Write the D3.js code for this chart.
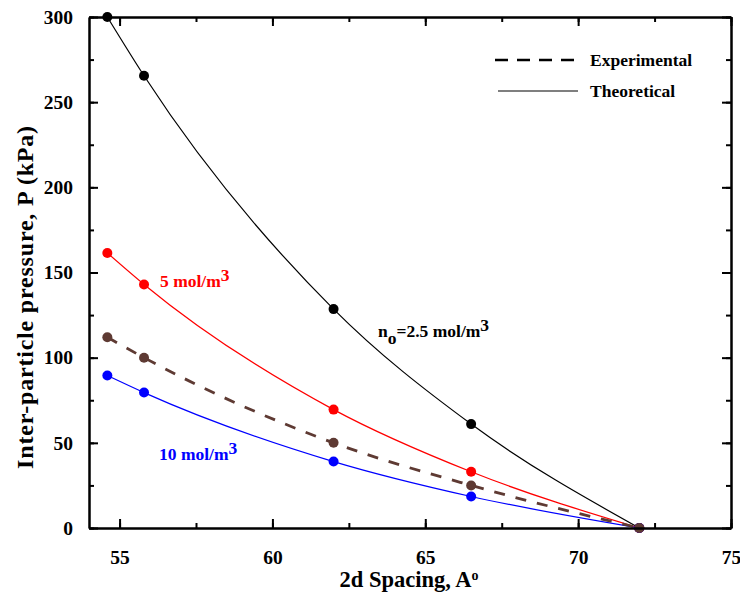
<!DOCTYPE html>
<html>
<head>
<meta charset="utf-8">
<script src="https://cdn.jsdelivr.net/npm/d3@7"></script>
<style>
  body { margin: 0; background: #fff; }
  text { font-family: "Liberation Serif", "Times New Roman", serif; font-weight: bold; }
</style>
</head>
<body>
<div id="chart"></div>
<script>
// spacing values (A) and pressures (kPa)
const spacing = [54.6, 55.8, 62, 66.5, 72];
const p25 = [300, 265.5, 128.5, 61, 0];
const p5 = [161.5, 143, 69.5, 33, 0];
const pExp = [112, 100, 50, 25, 0];
const p10 = [89.5, 79.5, 39, 18.5, 0];
const xTicks = [55, 60, 65, 70, 75];
const yTicks = [0, 50, 100, 150, 200, 250, 300];

const width = 740, height = 595;
const margin = {top: 17, right: 9, bottom: 67, left: 89};

const svg = d3.select('#chart')
  .append('svg')
  .attr('width', width)
  .attr('height', height);

const x = d3.scaleLinear().domain([54, 75]).range([margin.left, width - margin.right]);
const y = d3.scaleLinear().domain([0, 300]).range([height - margin.bottom, margin.top]);

const series = [
  {vals: p25, color: '#000000', w: 1.2, dash: null},
  {vals: p5, color: '#ff0000', w: 1.2, dash: null},
  {vals: p10, color: '#0000ff', w: 1.2, dash: null},
  {vals: pExp, color: '#5e3a33', w: 2.8, dash: '11,11'}
];

const line = d3.line()
  .x(d => x(d[0]))
  .y(d => y(d[1]))
  .curve(d3.curveMonotoneX);

series.forEach(s => {
  const pts = spacing.map((v, i) => [v, s.vals[i]]);
  svg.append('path')
    .attr('d', line(pts))
    .attr('fill', 'none')
    .attr('stroke', s.color)
    .attr('stroke-width', s.w)
    .attr('stroke-dasharray', s.dash);
  svg.append('g')
    .selectAll('circle')
    .data(pts)
    .enter()
    .append('circle')
      .attr('cx', d => x(d[0]))
      .attr('cy', d => y(d[1]))
      .attr('r', 5)
      .attr('fill', s.color);
});

// axes, ticks inward on all sides
const xMinor = d3.range(55, 75.1, 2.5);
const yMinor = d3.range(0, 300.1, 25);

const axBottom = svg.append('g').attr('transform', `translate(0,${y(0)})`);
axBottom.call(d3.axisBottom(x).tickValues(xTicks).tickSize(-9).tickSizeOuter(0).tickFormat(d3.format('d')));
axBottom.append('g').call(d3.axisBottom(x).tickValues(xMinor).tickSize(-5).tickFormat('').tickSizeOuter(0));
const axTop = svg.append('g').attr('transform', `translate(0,${y(300)})`);
axTop.call(d3.axisTop(x).tickValues(xTicks).tickSize(-9).tickFormat('').tickSizeOuter(0));
axTop.append('g').call(d3.axisTop(x).tickValues(xMinor).tickSize(-5).tickFormat('').tickSizeOuter(0));
const axLeft = svg.append('g').attr('transform', `translate(${x(54)},0)`);
axLeft.call(d3.axisLeft(y).tickValues(yTicks).tickSize(-9).tickSizeOuter(0).tickFormat(d3.format('d')));
axLeft.append('g').call(d3.axisLeft(y).tickValues(yMinor).tickSize(-5).tickFormat('').tickSizeOuter(0));
const axRight = svg.append('g').attr('transform', `translate(${x(75)},0)`);
axRight.call(d3.axisRight(y).tickValues(yTicks).tickSize(-9).tickFormat('').tickSizeOuter(0));
axRight.append('g').call(d3.axisRight(y).tickValues(yMinor).tickSize(-5).tickFormat('').tickSizeOuter(0));

svg.selectAll('.domain').attr('stroke', '#000').attr('stroke-width', 2);
svg.selectAll('.tick line').attr('stroke', '#000').attr('stroke-width', 2);
axBottom.selectAll('.tick text')
  .style('font-size', '19.5px').style('font-family', '"Liberation Serif", serif').style('font-weight', 'bold')
  .attr('y', 22);
axLeft.selectAll('.tick text')
  .style('font-size', '19.5px').style('font-family', '"Liberation Serif", serif').style('font-weight', 'bold')
  .attr('x', -16);

// axis titles
const xt = svg.append('text')
  .attr('x', 409).attr('y', 587)
  .style('text-anchor', 'middle')
  .style('font-size', '22.5px');
xt.append('tspan').text('2d Spacing, A');
xt.append('tspan').attr('dy', -7).style('font-size', '14px').text('o');

svg.append('text')
  .attr('transform', `translate(33, 297) rotate(-90)`)
  .style('text-anchor', 'middle')
  .style('font-size', '24px')
  .style('letter-spacing', '0.8px')
  .text('Inter-particle pressure, P (kPa)');

// curve labels
function molLabel(tx, ty, color, pre, sub, rest) {
  const t = svg.append('text').attr('x', tx).attr('y', ty).attr('fill', color).style('font-size', '17.5px');
  t.append('tspan').text(pre);
  if (sub) {
    t.append('tspan').attr('dy', 7).text(sub);
    t.append('tspan').attr('dy', -7).text(rest);
  } else {
    t.append('tspan').text(rest);
  }
  t.append('tspan').attr('dy', -6).text('3');
}
molLabel(160, 287, '#ff0000', '5 mol/m', null, '');
molLabel(159, 460, '#0000ff', '10 mol/m', null, '');
molLabel(378, 337, '#000000', 'n', 'o', '=2.5 mol/m');

// legend
const legend = svg.append('g');
legend.append('line')
  .attr('x1', 495).attr('x2', 578).attr('y1', 60).attr('y2', 60)
  .attr('stroke', '#000').attr('stroke-width', 2.5).attr('stroke-dasharray', '13,9');
legend.append('line')
  .attr('x1', 498).attr('x2', 578).attr('y1', 91).attr('y2', 91)
  .attr('stroke', '#000').attr('stroke-width', 1.2);
legend.append('text').attr('x', 590).attr('y', 66).style('font-size', '17.5px').text('Experimental');
legend.append('text').attr('x', 590).attr('y', 97).style('font-size', '17.5px').text('Theoretical');
</script>
</body>
</html>
